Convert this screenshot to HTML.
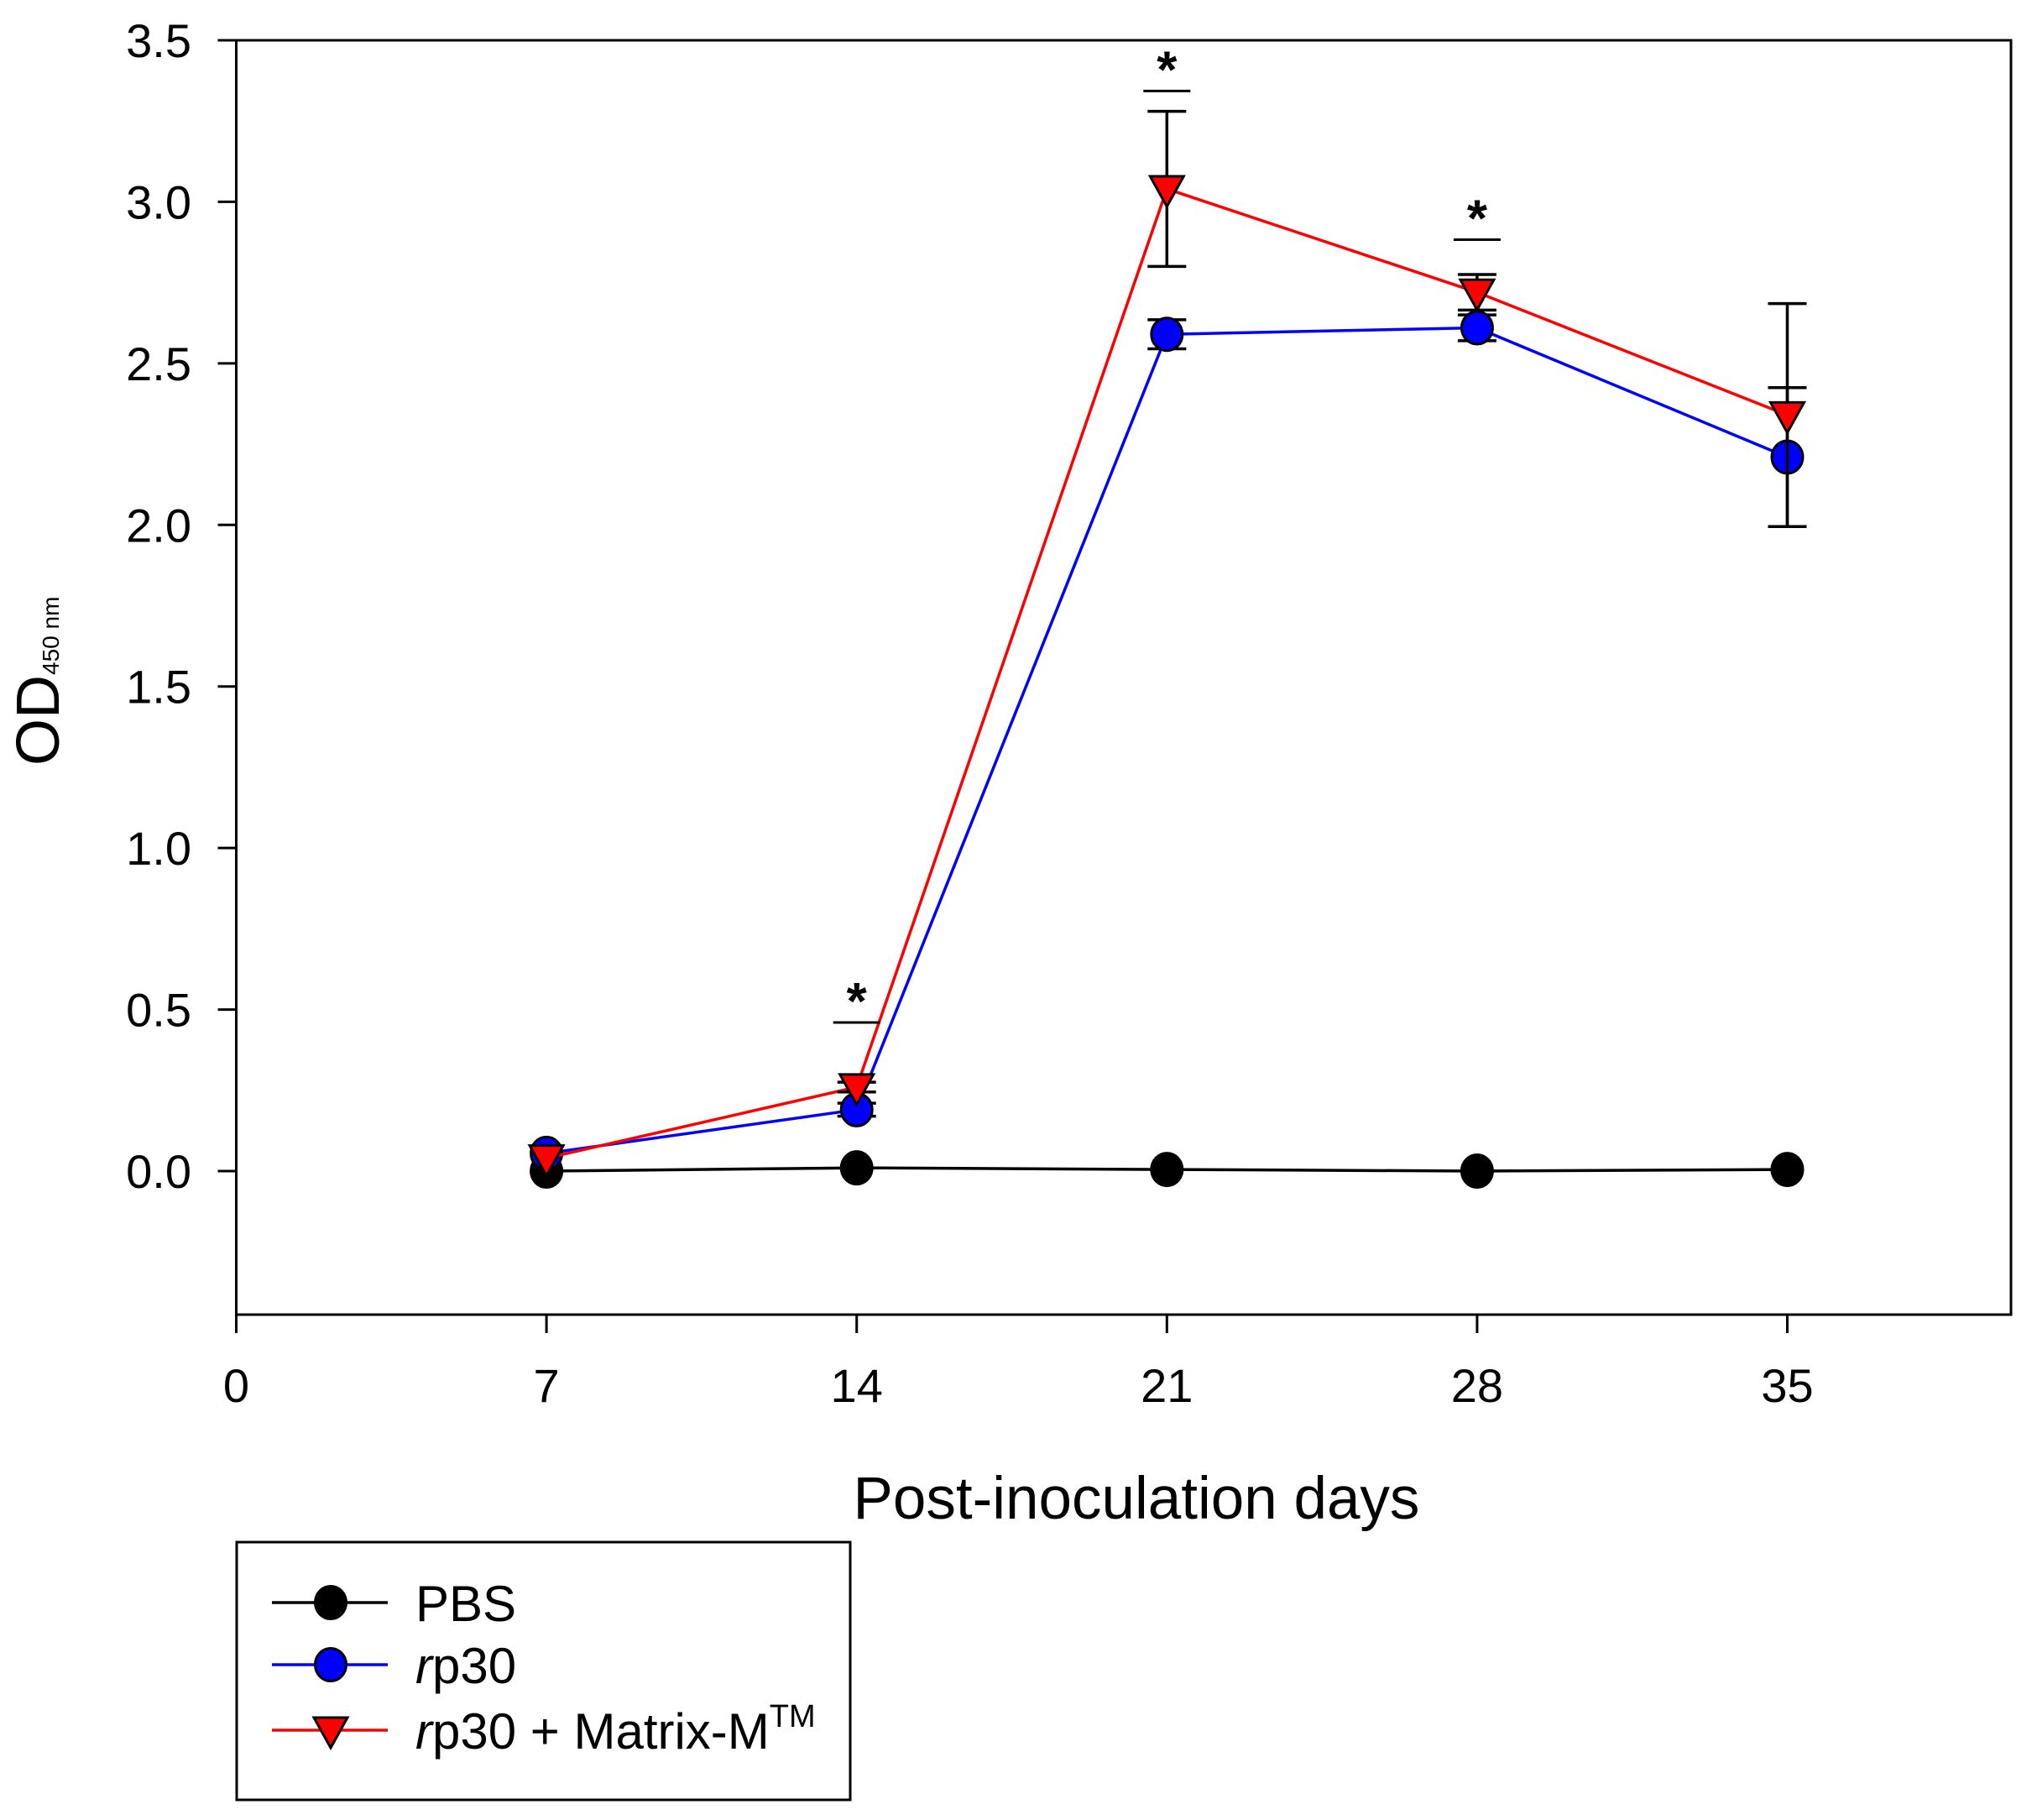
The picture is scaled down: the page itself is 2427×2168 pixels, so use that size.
<!DOCTYPE html>
<html><head><meta charset="utf-8"><style>
html,body{margin:0;padding:0;background:#fff;}
svg{display:block;font-family:"Liberation Sans",Arial,sans-serif;}
</style></head><body>
<svg id="chart" width="2427" height="2168" viewBox="0 0 2427 2168" xmlns="http://www.w3.org/2000/svg">
<rect x="0" y="0" width="2427" height="2168" fill="#fff"/>
<g id="axes"></g>
<g id="series"></g>
<text x="1354" y="1809" font-size="71" text-anchor="middle">Post-inoculation days</text>
<g transform="translate(70,912) rotate(-90)">
<text x="0" y="0" font-size="72">OD<tspan font-size="28" dy="0">450 nm</tspan></text>
</g>
<g>
<rect x="282" y="1837" width="731" height="307" fill="none" stroke="#000" stroke-width="3"/>
</g>
<g id="legend-items"></g>
</svg>
<script>
const days = [7, 14, 21, 28, 35];
const pbsValues = [0.0, 0.01, 0.005, 0.0, 0.005];
const pbsErr = [0.0, 0.0, 0.0, 0.0, 0.0];
const rp30Values = [0.055, 0.19, 2.59, 2.61, 2.21];
const rp30Err = [0.01, 0.02, 0.045, 0.04, 0.215];
const matrixValues = [0.04, 0.26, 3.04, 2.72, 2.34];
const matrixErr = [0.01, 0.015, 0.24, 0.055, 0.345];
const yTicks = [0.0, 0.5, 1.0, 1.5, 2.0, 2.5, 3.0, 3.5];
const yTickLabels = ["0.0","0.5","1.0","1.5","2.0","2.5","3.0","3.5"];
const xTicks = [0, 7, 14, 21, 28, 35];
const sigDays = [14, 21, 28];
const sigLineValues = [0.46, 3.343, 2.883];

const NS = "http://www.w3.org/2000/svg";
const L = 281.5, R = 2396, T = 48, B = 1566;
function xs(d){ return L + d * 369.6 / 7; }
function ys(v){ return 1395 - v * (1395 - 48) / 3.5; }
function mk(tag, attrs, parent){
  const e = document.createElementNS(NS, tag);
  for (const k in attrs) e.setAttribute(k, attrs[k]);
  parent.appendChild(e);
  return e;
}
const axes = document.getElementById('axes');
const frame = mk('rect', {x:L, y:T, width:R-L, height:B-T, fill:'none', stroke:'#000', 'stroke-width':3}, axes);


yTicks.forEach((v,i)=>{
  const t = mk('line', {x1:L-22, x2:L, y1:ys(v), y2:ys(v), stroke:'#000', 'stroke-width':3}, axes);
  
  
  const lb = mk('text', {x:228, y:ys(v)+20, 'font-size':56, 'text-anchor':'end'}, axes);
  lb.textContent = yTickLabels[i];
  
  
});
xTicks.forEach(d=>{
  const t = mk('line', {x1:xs(d), x2:xs(d), y1:B, y2:B+22, stroke:'#000', 'stroke-width':3}, axes);
  
  
  const lb = mk('text', {x:xs(d), y:1670, 'font-size':56, 'text-anchor':'middle'}, axes);
  lb.textContent = String(d);
  
  
});
const sg = document.getElementById('series');
function drawMarker(kind, cx, cy, fill, parent){
  if (kind === 'circle') {
    return mk('ellipse', {cx:cx, cy:cy, rx:18.5, ry:19.5, fill:fill, stroke:'#000', 'stroke-width':3}, parent);
  }
  const s = 20;
  return mk('polygon', {points:`${cx-s},${cy-s*0.75} ${cx+s},${cy-s*0.75} ${cx},${cy+s*1.05}`, fill:fill, stroke:'#000', 'stroke-width':3}, parent);
}
function drawSeries(name, vals, errs, color, kind, fill){
  const g = mk('g', {}, sg);
  
  
  const pts = days.map((d,i)=>xs(d)+','+ys(vals[i])).join(' ');
  const pl = mk('polyline', {points:pts, fill:'none', stroke:color, 'stroke-width':3.5}, g);
  
  
  days.forEach((d,i)=>{
    if (errs[i] > 0.012) {
      const x = xs(d), y1 = ys(vals[i]+errs[i]), y2 = ys(vals[i]-errs[i]);
      const eb = mk('path', {d:`M${x},${y1}V${y2}M${x-23},${y1}H${x+23}M${x-23},${y2}H${x+23}`, stroke:'#000', 'stroke-width':3.5, fill:'none'}, g);
      
      
    }
  });
  days.forEach((d,i)=>{
    const m = drawMarker(kind, xs(d), ys(vals[i]), fill, g);
    
    
  });
}
drawSeries('pbs', pbsValues, pbsErr, '#000', 'circle', '#000');
drawSeries('rp30', rp30Values, rp30Err, '#0000ff', 'circle', '#0000ff');
drawSeries('rp30-matrix', matrixValues, matrixErr, '#ff0000', 'triangle', '#ff0000');
sigDays.forEach((d,i)=>{
  const y = ys(sigLineValues[i]);
  const ln = mk('line', {x1:xs(d)-28, x2:xs(d)+28, y1:y, y2:y, stroke:'#000', 'stroke-width':3}, sg);
  
  
  const st = mk('text', {x:xs(d), y:y-4, 'font-size':62, 'font-weight':'bold', 'text-anchor':'middle'}, sg);
  st.textContent = '*';
  
  
});
const lg = document.getElementById('legend-items');
const legendNames = ['PBS', 'rp30', 'rp30 + Matrix-M'];
const legendColors = ['#000', '#0000ff', '#ff0000'];
const legendKinds = ['circle', 'circle', 'triangle'];
const legendY = [1909, 1983, 2061];
legendNames.forEach((n,i)=>{
  const g = mk('g', {}, lg);
  
  
  mk('line', {x1:324, x2:462, y1:legendY[i], y2:legendY[i], stroke:legendColors[i], 'stroke-width':3.5}, g);
  drawMarker(legendKinds[i], 394, legendY[i], legendColors[i], g);
  const t = mk('text', {x:495, y:legendY[i]+22, 'font-size':60}, g);
  if (i === 0) { t.textContent = 'PBS'; }
  else {
    const it = mk('tspan', {'font-style':'italic'}, t); it.textContent = 'r';
    const rest = mk('tspan', {}, t); rest.textContent = i === 1 ? 'p30' : 'p30 + Matrix-M';
    if (i === 2) { const tm = mk('tspan', {'font-size':38, dy:-26}, t); tm.textContent = 'TM'; }
  }
});
</script>
</body></html>
